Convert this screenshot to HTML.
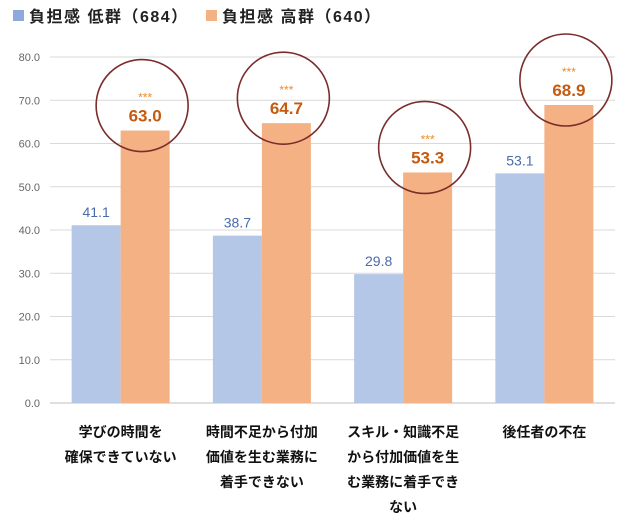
<!DOCTYPE html>
<html><head><meta charset="utf-8"><style>
body{margin:0;background:#fff;font-family:"Liberation Sans","Noto Sans CJK JP",sans-serif;}
svg text{font-family:"Liberation Sans","Noto Sans CJK JP",sans-serif;}
</style></head><body>
<svg id="c" width="632" height="525">
<g>
<rect x="13" y="10" width="11" height="11" fill="#8eaadb"/>
<text x="29" y="22" font-size="16" font-weight="bold" letter-spacing="1.5" fill="#222">負担感 低群（684）</text>
<rect x="206" y="10" width="11" height="11" fill="#f4b183"/>
<text x="222" y="22" font-size="16" font-weight="bold" letter-spacing="1.5" fill="#222">負担感 高群（640）</text>
</g>
<g id="grid"></g><g id="bars"></g><g id="labels"></g>
</svg>
<script>
const categories=[["学びの時間を","確保できていない"],["時間不足から付加","価値を生む業務に","着手できない"],["スキル・知識不足","から付加価値を生","む業務に着手でき","ない"],["後任者の不在"]];
const lowValues=[41.1,38.7,29.8,53.1];
const highValues=[63.0,64.7,53.3,68.9];
const ticks=[0,10,20,30,40,50,60,70,80];
const NS="http://www.w3.org/2000/svg";
const y0=403,yTop=57,vmax=80,left=50,right=615;
const y=v=>y0-(y0-yTop)*v/vmax;
const gw=(right-left)/categories.length;
const gx=i=>left+gw*i+gw/2;
function mk(tag,attrs,parent,text){const e=document.createElementNS(NS,tag);for(const k in attrs)e.setAttribute(k,attrs[k]);if(text!==undefined)e.textContent=text;parent.appendChild(e);return e;}
const grid=document.getElementById('grid'),bars=document.getElementById('bars'),labels=document.getElementById('labels');
ticks.forEach(t=>{
 const l=mk('line',{x1:left,x2:right,y1:y(t),y2:y(t),stroke:t===0?'#bfbfbf':'#d9d9d9','stroke-width':1},grid);
 
 
 const tx=mk('text',{x:40,y:y(t)+4,'text-anchor':'end','font-size':11,fill:'#666'},grid,t.toFixed(1));
 
 
});
const bw=49;
categories.forEach((c,i)=>{
 const cx=gx(i);
 const b1=mk('rect',{x:cx-bw,y:y(lowValues[i]),width:bw,height:y0-y(lowValues[i]),fill:'#b4c7e7'},bars);
 
 
 const b2=mk('rect',{x:cx,y:y(highValues[i]),width:bw,height:y0-y(highValues[i]),fill:'#f4b183'},bars);
 
 
 const l1=mk('text',{x:cx-bw/2,y:y(lowValues[i])-8,'text-anchor':'middle','font-size':14,fill:'#4a6aa8'},labels,lowValues[i].toFixed(1));
 
 
 const l2=mk('text',{x:cx+bw/2,y:y(highValues[i])-9,'text-anchor':'middle','font-size':17,'font-weight':'bold',fill:'#c55a11'},labels,highValues[i].toFixed(1));
 
 
 const st=mk('text',{x:cx+bw/2,y:y(highValues[i])-29,'text-anchor':'middle','font-size':12,fill:'#f08a24'},labels,'***');
 
 
 const ci=mk('circle',{cx:cx+bw/2-3,cy:y(highValues[i])-25,r:46,fill:'none',stroke:'#7b2c2c','stroke-width':1.6},labels);
 
 
 c.forEach((line,j)=>{
  const t=mk('text',{x:cx,y:437+j*25,'text-anchor':'middle','font-size':14,'font-weight':'bold',fill:'#111'},labels,line);
  
  
 });
});
</script>
</body></html>
